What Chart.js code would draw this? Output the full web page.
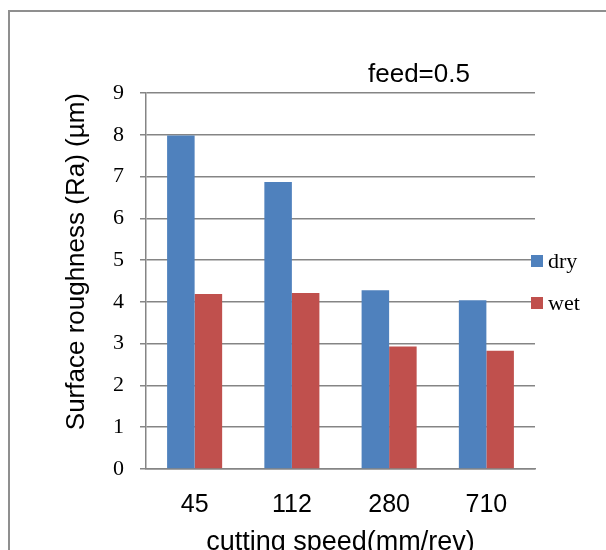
<!DOCTYPE html>
<html>
<head>
<meta charset="utf-8">
<title>Surface roughness vs cutting speed</title>
<script src="https://cdn.jsdelivr.net/npm/chart.js@4"></script>
<style>
  html, body { margin: 0; padding: 0; background: #fff; }
  #wrap { position: relative; width: 606px; height: 550px; overflow: hidden; }
  #frame {
    position: absolute; left: 8px; top: 10px;
    width: 700px; height: 700px;
    border: 2px solid #8f8f8f; box-sizing: border-box;
  }
  #roughChart { position: absolute; left: 0; top: 0; }
</style>
</head>
<body>
<div id="wrap">
  <div id="frame"></div>
  <canvas id="roughChart" width="606" height="560"></canvas>
</div>
<script>
const speeds = ["45", "112", "280", "710"];
const dryRa = [7.98, 6.87, 4.28, 4.04];
const wetRa = [4.19, 4.21, 2.93, 2.83];
const seriesNames = ["dry", "wet"];
const seriesColors = ["#4F81BD", "#C0504D"];
const yMax = 9;
const chartTitle = "feed=0.5";

const gridGrey = "#858585";

// title text and the small legend on the right
const titleAndLegend = {
  id: "titleAndLegend",
  afterDraw(chart) {
    const ctx = chart.ctx;
    const area = chart.chartArea;
    ctx.save();
    ctx.fillStyle = "#000";
    ctx.font = "26px 'Liberation Sans', Arial, sans-serif";
    ctx.textAlign = "left";
    ctx.textBaseline = "alphabetic";
    ctx.fillText(chartTitle, 368, 82);

    ctx.font = "22px 'Liberation Serif', 'Times New Roman', serif";
    ctx.textBaseline = "middle";
    chart.data.datasets.forEach((ds, i) => {
      const cy = 261 + i * 42;
      ctx.fillStyle = ds.backgroundColor;
      ctx.fillRect(area.right - 4, cy - 6, 12, 12);
      ctx.fillStyle = "#000";
      ctx.fillText(ds.label, area.right + 13, cy + 1);
    });
    ctx.restore();
  }
};

const ctx = document.getElementById("roughChart").getContext("2d");
const roughChart = new Chart(ctx, {
  type: "bar",
  data: {
    labels: speeds,
    datasets: [
      {
        label: seriesNames[0],
        data: dryRa,
        backgroundColor: seriesColors[0],
        borderWidth: 0,
      },
      {
        label: seriesNames[1],
        data: wetRa,
        backgroundColor: seriesColors[1],
        borderWidth: 0,
      },
    ],
  },
  options: {
    responsive: false,
    animation: false,
    devicePixelRatio: 1,
    layout: { padding: { top: 93, right: 71, left: 0, bottom: 0 } },
    datasets: {
      bar: { categoryPercentage: 0.566, barPercentage: 1 },
    },
    plugins: {
      legend: { display: false },
      title: { display: false },
      tooltip: { enabled: false },
    },
    scales: {
      x: {
        afterFit: (scale) => { scale.height = 91; },
        grid: { display: false, drawTicks: false },
        border: { display: true, color: gridGrey, width: 1.5 },
        ticks: {
          color: "#000",
          padding: 21,
          font: { family: "'Liberation Sans', Arial, sans-serif", size: 25 },
        },
        title: {
          display: true,
          text: "cutting speed(mm/rev)",
          color: "#000",
          padding: { top: 0, bottom: 1 },
          font: { family: "'Liberation Sans', Arial, sans-serif", size: 27 },
        },
      },
      y: {
        min: 0,
        max: yMax,
        afterFit: (scale) => { scale.width = 146; },
        grid: { color: gridGrey, lineWidth: 1.5, drawTicks: true, tickLength: 6 },
        border: { display: true, color: gridGrey, width: 1.5 },
        ticks: {
          stepSize: 1,
          color: "#000",
          padding: 16,
          font: { family: "'Liberation Serif', 'Times New Roman', serif", size: 22 },
        },
        title: {
          display: true,
          text: "Surface roughness (Ra) (µm)",
          align: "end",
          color: "#000",
          padding: { top: 61, bottom: 0 },
          font: { family: "'Liberation Sans', Arial, sans-serif", size: 26 },
        },
      },
    },
  },
  plugins: [titleAndLegend],
});
</script>
</body>
</html>
